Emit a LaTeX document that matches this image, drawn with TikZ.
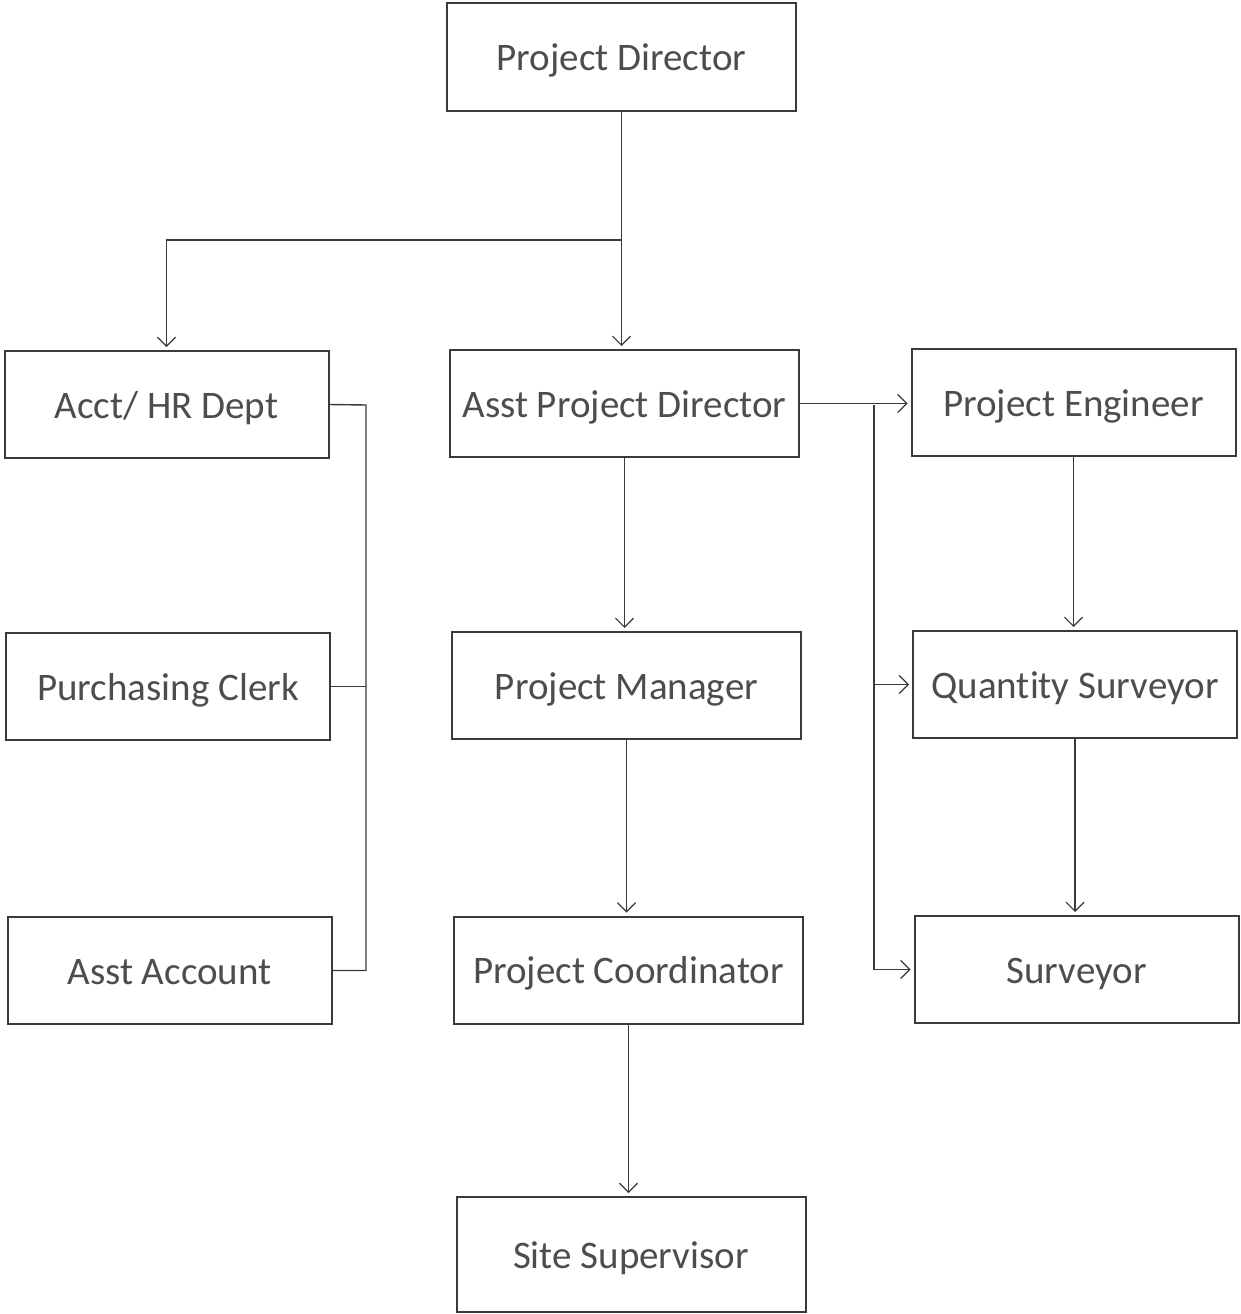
\documentclass[tikz,border=0pt]{standalone}
\usepackage{fontspec}
\setmainfont[Ligatures=NoCommon]{Carlito}
\usetikzlibrary{arrows.meta}
\definecolor{ink}{HTML}{3A3A3A}
\definecolor{txt}{HTML}{4D4D4D}
\begin{document}
\begin{tikzpicture}[x=1pt,y=-1pt,
  box/.style={draw=ink,line width=2pt,minimum height=107pt,inner sep=0pt,
    text height=27pt,text depth=0pt,
    font=\fontsize{39}{44}\selectfont,text=txt},
  wide/.style={box,minimum width=349pt},
  narrow/.style={box,minimum width=324pt},
  conn/.style={draw=ink,line width=1.4pt},
  arr/.style={conn,-{Straight Barb[length=9pt,width=18pt,line width=1.2pt]},shorten >=3pt}]
\useasboundingbox (0,0) rectangle (1240,1314);
\fill[white] (0,0) rectangle (1240,1314);
\node[wide] (pd) at (621.5,57) {Project Director};
\node[narrow] (ah) at (166.5,404.5) {Acct/ HR Dept};
\node[wide] (apd) at (624.5,403.5) {Asst Project Director};
\node[narrow] (pe) at (1073.5,402.5) {Project Engineer};
\node[narrow] (pcl) at (168,686.5) {Purchasing Clerk};
\node[wide] (pm) at (626.5,685.5) {Project Manager};
\node[narrow] (qs) at (1075,684.5) {Quantity Surveyor};
\node[narrow] (aa) at (169.5,970.5) {Asst Account};
\node[wide] (pc) at (628.5,970) {Project Coordinator};
\node[narrow] (sv) at (1076.5,969.5) {Surveyor};
\node[wide,minimum height=115pt] (ss) at (631,1254.5) {Site Supervisor};
% top
\coordinate (split) at (pd.south |- 0,240);
\draw[arr] (pd.south) -- (pd.south |- apd.north);
\draw[arr] (split) -| (ah.north);
% left bus
\coordinate (lbus) at (366,405);
\draw[conn] (ah.east) -- (lbus) |- (aa.east);
\draw[conn] (pcl.east) -- (pcl.east -| lbus);
% right
\coordinate (rbus) at (874,405);
\draw[arr] (apd.east) -- (apd.east -| pe.west);
\draw[conn] (rbus) -- (rbus |- sv.west);
\draw[arr] (rbus |- qs.west) -- (qs.west);
\draw[arr] (rbus |- sv.west) -- (sv.west);
% center column
\draw[arr] (apd.south) -- (apd.south |- pm.north);
\draw[arr] (pm.south) -- (pm.south |- pc.north);
\draw[arr] (pc.south) -- (pc.south |- ss.north);
% right column
\draw[arr] (pe.south) -- (pe.south |- qs.north);
\draw[arr] (qs.south) -- (qs.south |- sv.north);
\end{tikzpicture}
\end{document}
